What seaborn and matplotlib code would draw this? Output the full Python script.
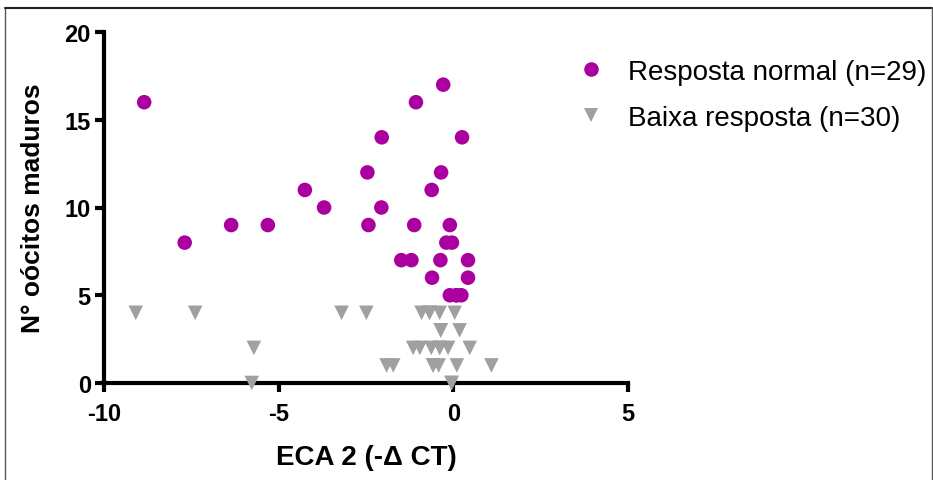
import matplotlib
matplotlib.use("Agg")
import matplotlib.pyplot as plt
from matplotlib import font_manager
from matplotlib.lines import Line2D
import seaborn as sns
import pandas as pd

# ---- data ----
normal_x = [-8.85, -1.07, -0.29, -2.05, 0.25, -2.46, -0.35, -4.25, -0.62, -3.70,
            -2.06, -6.36, -5.31, -2.43, -1.12, -0.10, -7.69, -0.20, -0.04, -1.49,
            -1.20, -0.37, 0.42, -0.61, 0.42, -0.10, 0.09, 0.23, 0.09]
normal_y = [16, 16, 17, 14, 14, 12, 12, 11, 11, 10,
            10, 9, 9, 9, 9, 9, 8, 8, 8, 7,
            7, 7, 7, 6, 6, 5, 5, 5, 5]
low_x = [-9.09, -7.39, -3.20, -2.49, -0.91, -0.68, -0.39, 0.04, -0.68,
         -0.36, 0.18, -0.36,
         -5.71, -1.15, -0.96, -0.63, -0.39, -0.15, 0.47, -0.39,
         -1.91, -1.72, -0.58, -0.42, 0.10, 1.09, -0.58,
         -5.77, -0.05, -0.05]
low_y = [4, 4, 4, 4, 4, 4, 4, 4, 4,
         3, 3, 3,
         2, 2, 2, 2, 2, 2, 2, 2,
         1, 1, 1, 1, 1, 1, 1,
         0, 0, 0]
labels = ["Resposta normal (n=29)", "Baixa resposta (n=30)"]
x_ticks = [-10, -5, 0, 5]
y_ticks = [0, 5, 10, 15, 20]
x_label = "ECA 2 (-\u0394 CT)"
y_label = "N\u00b0 o\u00f3citos maduros"

df = pd.DataFrame({
    "x": normal_x + low_x,
    "y": normal_y + low_y,
    "grupo": [labels[0]] * len(normal_x) + [labels[1]] * len(low_x),
})

sns.set_style("ticks")
avail = {f.name for f in font_manager.fontManager.ttflist}
narrow = "Liberation Sans Narrow" if "Liberation Sans Narrow" in avail else (
    "DejaVu Sans Condensed" if "DejaVu Sans Condensed" in avail else "Liberation Sans")
plt.rcParams["font.family"] = ["Liberation Sans", "DejaVu Sans"]
plt.rcParams["axes.unicode_minus"] = False
plt.rcParams["text.color"] = "black"
plt.rcParams["axes.labelcolor"] = "black"
plt.rcParams["xtick.color"] = "black"
plt.rcParams["ytick.color"] = "black"

fig = plt.figure(figsize=(9.33, 4.81), dpi=100)
ax = fig.add_axes([104 / 933, 1 - 384 / 481, 524 / 933, 351 / 481])

sns.scatterplot(data=df, x="x", y="y", hue="grupo", style="grupo",
                palette={labels[0]: "#AA009F", labels[1]: "#A0A0A0"},
                markers={labels[0]: "o", labels[1]: "v"},
                s=110, linewidth=0, ax=ax, clip_on=False, legend=True, zorder=3)

ax.set_xlim(-10, 5)
ax.set_ylim(0, 20)
ax.set_xticks(x_ticks)
ax.set_yticks(y_ticks)
for s in ["top", "right"]:
    ax.spines[s].set_visible(False)
for s in ["left", "bottom"]:
    ax.spines[s].set_linewidth(3)
    ax.spines[s].set_color("black")
    ax.spines[s].set_zorder(2.5)
ax.tick_params(axis="both", direction="out", length=6.5, width=3, color="black",
               labelcolor="black")
ax.tick_params(axis="x", pad=7)
ax.tick_params(axis="y", pad=3)
for t in ax.get_xticklabels() + ax.get_yticklabels():
    t.set_fontfamily([narrow, "DejaVu Sans"])
    t.set_fontweight("bold")
    t.set_fontsize(17)

ax.set_xlabel(x_label, fontsize=20, fontweight="bold", family=[narrow, "DejaVu Sans"],
              labelpad=14, color="black")
ax.set_ylabel(y_label, fontsize=19, fontweight="bold", labelpad=14, color="black")

ax.get_legend().remove()
handles, lbls = ax.get_legend_handles_labels()
fig.legend(handles, lbls, loc="upper left", bbox_to_anchor=(577 / 933, 1 - 60 / 481),
           frameon=False, fontsize=20, handlelength=1.0, handletextpad=0.85,
           borderpad=0, borderaxespad=0, labelspacing=0.72, markerscale=1.0)

# outer frame of the reference picture
fig.add_artist(Line2D([5 / 933, 5 / 933], [0, 1 - 9 / 481], transform=fig.transFigure,
                      color="#555555", linewidth=1.0))
fig.add_artist(Line2D([5 / 933, 931.5 / 933], [1 - 9 / 481, 1 - 9 / 481], transform=fig.transFigure,
                      color="#222222", linewidth=1.5))
fig.add_artist(Line2D([931.5 / 933, 931.5 / 933], [0, 1 - 9 / 481], transform=fig.transFigure,
                      color="#555555", linewidth=1.0))

fig.savefig("out.png", dpi=100)
